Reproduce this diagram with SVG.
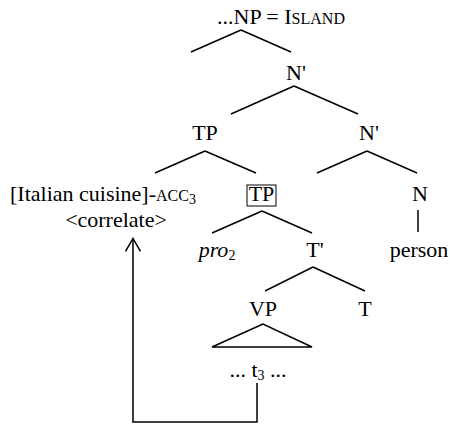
<svg xmlns="http://www.w3.org/2000/svg" width="450" height="425" viewBox="0 0 450 425">
<style>
text{font-family:"Liberation Serif","Times New Roman",serif;font-size:22px;fill:#000;text-anchor:middle}
.sc{font-size:16px}
.sub{font-size:14px}
line,polyline,polygon{stroke:#000;stroke-width:1.5;fill:none}
</style>
<defs>
<marker id="open" viewBox="0 0 16 16" refX="13" refY="8" markerWidth="16" markerHeight="16" markerUnits="userSpaceOnUse" orient="auto">
<polyline points="0,0.5 13,8 0,15.5" stroke="#000" stroke-width="1.5" fill="none"/>
</marker>
</defs>
<g id="connectors">
<line x1="241" y1="30" x2="191" y2="52"/>
<line x1="241" y1="30" x2="291" y2="52"/>
<line x1="294" y1="86" x2="231" y2="114"/>
<line x1="294" y1="86" x2="358" y2="114"/>
<line x1="205" y1="151" x2="155" y2="173"/>
<line x1="205" y1="151" x2="256" y2="173"/>
<line x1="367" y1="151" x2="317" y2="173"/>
<line x1="367" y1="151" x2="417" y2="173"/>
<line x1="262" y1="211" x2="212" y2="233"/>
<line x1="262" y1="211" x2="312" y2="233"/>
<line x1="418" y1="210" x2="418" y2="232"/>
<line x1="313" y1="267" x2="265" y2="291"/>
<line x1="313" y1="267" x2="365" y2="291"/>
<polyline points="257,383 257,422 133,422 133,238.5" marker-end="url(#open)"/>
</g>
<g id="np"><text x="281" y="24">...NP = I<tspan class="sc">SLAND</tspan></text></g>
<g id="nbar1"><text x="296" y="80">N'</text></g>
<g id="tp1"><text x="205" y="140">TP</text></g>
<g id="nbar2"><text x="369" y="140">N'</text></g>
<g id="correlate"><text x="10" y="201" style="text-anchor:start">[Italian cuisine]-<tspan class="sc">ACC</tspan><tspan class="sub" dy="3">3</tspan></text>
<text x="116" y="227">&lt;correlate&gt;</text></g>
<g id="tp2"><rect x="247" y="185" width="29" height="21" fill="none" stroke="#000" stroke-width="1"/><text x="261.5" y="201">TP</text></g>
<g id="n"><text x="420" y="201">N</text></g>
<g id="pro"><text x="217" y="257" font-style="italic">pro<tspan class="sub" font-style="normal" dy="3">2</tspan></text></g>
<g id="tbar"><text x="315" y="257">T'</text></g>
<g id="person"><text x="419" y="257">person</text></g>
<g id="vp"><text x="263" y="316">VP</text>
<polygon points="263,324 212,347 312,347"/></g>
<g id="t"><text x="365" y="316">T</text></g>
<g id="trace"><text x="258" y="377">... t<tspan class="sub" dy="3">3</tspan><tspan dy="-3"> ...</tspan></text></g>
</svg>
